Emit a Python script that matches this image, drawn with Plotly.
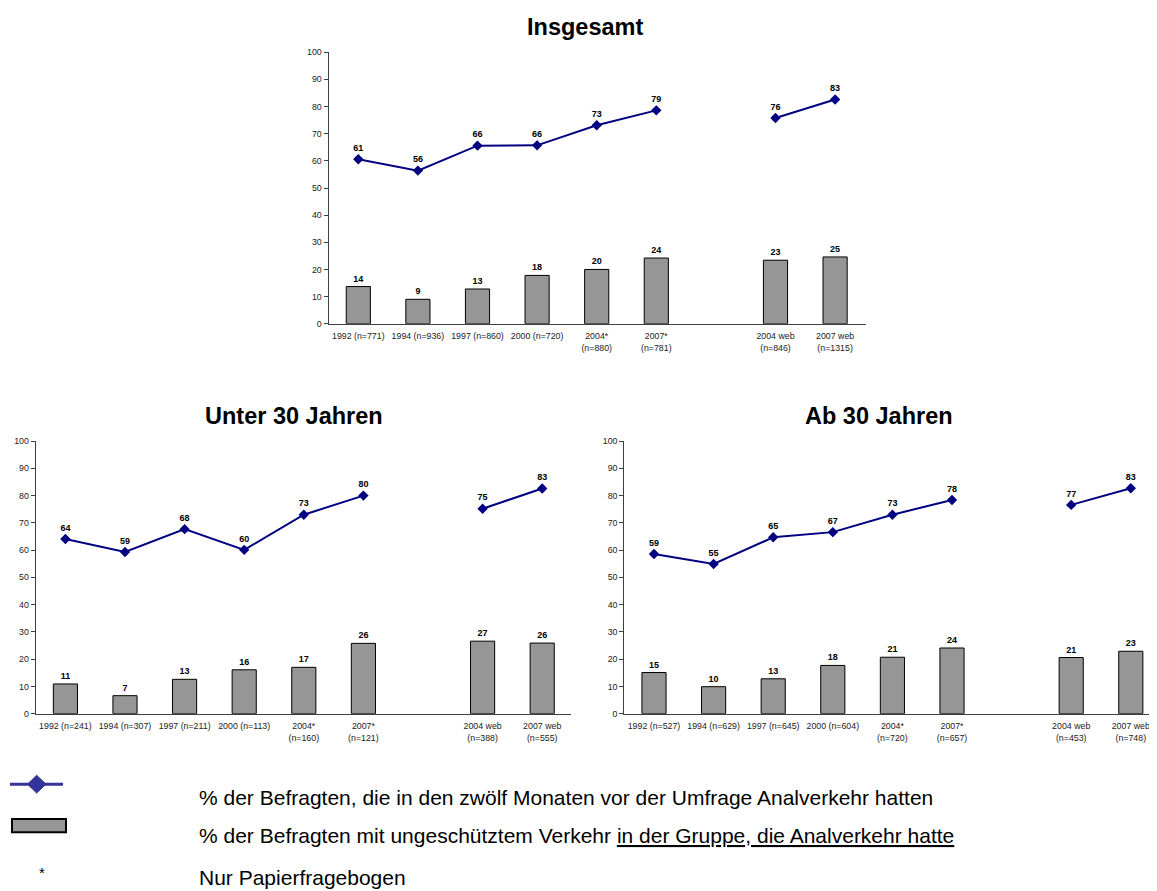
import plotly.graph_objects as go

# ---------------- data ----------------
gap = " "
cats_all = ["1992 (n=771)", "1994 (n=936)", "1997 (n=860)", "2000 (n=720)",
            "2004*<br>(n=880)", "2007*<br>(n=781)", gap,
            "2004 web<br>(n=846)", "2007 web<br>(n=1315)"]
cats_u30 = ["1992 (n=241)", "1994 (n=307)", "1997 (n=211)", "2000 (n=113)",
            "2004*<br>(n=160)", "2007*<br>(n=121)", gap,
            "2004 web<br>(n=388)", "2007 web<br>(n=555)"]
cats_a30 = ["1992 (n=527)", "1994 (n=629)", "1997 (n=645)", "2000 (n=604)",
            "2004*<br>(n=720)", "2007*<br>(n=657)", gap,
            "2004 web<br>(n=453)", "2007 web<br>(n=748)"]

# % with anal intercourse in the 12 months before the survey (line)
anal_all = [60.6, 56.4, 65.6, 65.7, 73.1, 78.6, None, 75.8, 82.6]
anal_u30 = [64.1, 59.3, 67.7, 60.1, 73.0, 80.0, None, 75.2, 82.6]
anal_a30 = [58.6, 54.9, 64.7, 66.6, 73.0, 78.4, None, 76.6, 82.7]

# % unprotected intercourse within the group that had anal intercourse (bars)
unprot_all = [13.7, 9.0, 12.8, 17.8, 20.0, 24.2, None, 23.4, 24.6]
unprot_u30 = [10.9, 6.6, 12.6, 16.1, 17.0, 25.8, None, 26.6, 25.9]
unprot_a30 = [15.1, 9.9, 12.8, 17.7, 20.7, 24.1, None, 20.6, 22.9]

titles = ["Insgesamt", "Unter 30 Jahren", "Ab 30 Jahren"]
legend_texts = [
    "% der Befragten, die in den zwölf Monaten vor der Umfrage Analverkehr hatten",
    "% der Befragten mit ungeschütztem Verkehr <u>in der Gruppe, die Analverkehr hatte</u>",
    "Nur Papierfragebogen",
]

# ---------------- styling ----------------
PAGE_W, PAGE_H = 1157, 891
OFF = 8                      # default html body margin
W, H = PAGE_W - OFF, PAGE_H - OFF
FONT = "Arial, 'Liberation Sans', sans-serif"
NAVY = "#000080"
LEG_BLUE = "#333399"
GREY = "#969696"
AXC = "#404040"


def px_x(x):
    return (x - OFF) / W


def px_y(y):
    return 1 - (y - OFF) / H


SLOT = 59.6
panels = [
    dict(cats=cats_all, line=anal_all, bars=unprot_all,
         xd=(328.5, 866.0), yd=(322.3, 47.7), title_xy=(585.3, 22)),
    dict(cats=cats_u30, line=anal_u30, bars=unprot_u30,
         xd=(35.6, 570.6), yd=(716.7, 441), title_xy=(293.8, 416)),
    dict(cats=cats_a30, line=anal_a30, bars=unprot_a30,
         xd=(624.2, 1157.0), yd=(716.7, 441), title_xy=(879.4, 416)),
]

fig = go.Figure()
annotations = []
layout_axes = {}

for i, p in enumerate(panels):
    n = "" if i == 0 else str(i + 1)
    xa, ya = "x" + n, "y" + n
    fig.add_trace(go.Bar(
        x=p["cats"], y=p["bars"], xaxis=xa, yaxis=ya,
        marker=dict(color=GREY, line=dict(color="black", width=1)),
        texttemplate="<b>%{y:.0f}</b>", textposition="outside",
        textfont=dict(size=9, color="black", family=FONT),
        cliponaxis=False, hoverinfo="skip",
    ))
    fig.add_trace(go.Scatter(
        x=p["cats"], y=p["line"], xaxis=xa, yaxis=ya,
        mode="lines+markers+text", connectgaps=False,
        line=dict(color=NAVY, width=2),
        marker=dict(symbol="diamond", size=8, color=NAVY),
        texttemplate="<b>%{y:.0f}</b>", textposition="top center",
        textfont=dict(size=9, color="black", family=FONT),
        cliponaxis=False, hoverinfo="skip",
    ))
    x0px, x1px = p["xd"]
    span = (x1px - x0px) / SLOT
    layout_axes["xaxis" + n] = dict(
        domain=[px_x(x0px), min(1.0, px_x(x1px))], anchor=ya,
        type="category", categoryorder="array", categoryarray=p["cats"],
        range=[-0.5, -0.5 + span],
        showline=True, linecolor=AXC, linewidth=1,
        ticks="outside", ticklen=4, tickcolor="rgba(0,0,0,0)",
        showgrid=False, zeroline=False,
        tickfont=dict(size=8.8, color="#222", family=FONT), tickangle=0,
    )
    layout_axes["yaxis" + n] = dict(
        domain=[px_y(p["yd"][0]), px_y(p["yd"][1])], anchor=xa,
        range=[0, 100], dtick=10, tick0=0,
        showline=True, linecolor=AXC, linewidth=1,
        ticks="outside", ticklen=4, tickcolor=AXC,
        showgrid=False, zeroline=False,
        tickfont=dict(size=8.8, color="#222", family=FONT),
    )
    annotations.append(dict(
        text="<b>%s</b>" % titles[i], xref="paper", yref="paper",
        x=px_x(p["title_xy"][0]), y=px_y(p["title_xy"][1]),
        xanchor="center", yanchor="middle", showarrow=False,
        font=dict(size=23.5, color="black", family=FONT),
    ))

# ---------------- legend (drawn) ----------------
legend_y = [801, 840, 882]
for t, yy in zip(legend_texts, legend_y):
    annotations.append(dict(
        text=t, xref="paper", yref="paper", x=px_x(197), y=px_y(yy),
        xanchor="left", yanchor="middle", showarrow=False,
        font=dict(size=21, color="black", family=FONT),
    ))
annotations.append(dict(
    text="*", xref="paper", yref="paper", x=px_x(42), y=px_y(877),
    xanchor="center", yanchor="middle", showarrow=False,
    font=dict(size=15, color="black", family=FONT),
))

shapes = [
    dict(type="line", xref="paper", yref="paper",
         x0=px_x(10), x1=px_x(63), y0=px_y(788), y1=px_y(788),
         line=dict(color=LEG_BLUE, width=3)),
    dict(type="path", xref="paper", yref="paper",
         path="M %f,%f L %f,%f L %f,%f L %f,%f Z" % (
             px_x(27.5), px_y(788), px_x(36.7), px_y(779),
             px_x(46), px_y(788), px_x(36.7), px_y(797)),
         fillcolor=LEG_BLUE, line=dict(color=LEG_BLUE, width=1)),
    dict(type="rect", xref="paper", yref="paper",
         x0=px_x(12), x1=px_x(66), y0=px_y(836.7), y1=px_y(823.3),
         fillcolor=GREY, line=dict(color="black", width=2)),
]

fig.update_layout(
    width=W, height=H, margin=dict(l=0, r=0, t=0, b=0),
    paper_bgcolor="white", plot_bgcolor="white",
    showlegend=False, bargap=0.595,
    font=dict(family=FONT, color="black"),
    annotations=annotations, shapes=shapes,
    **layout_axes,
)

fig.write_html("out.html")
